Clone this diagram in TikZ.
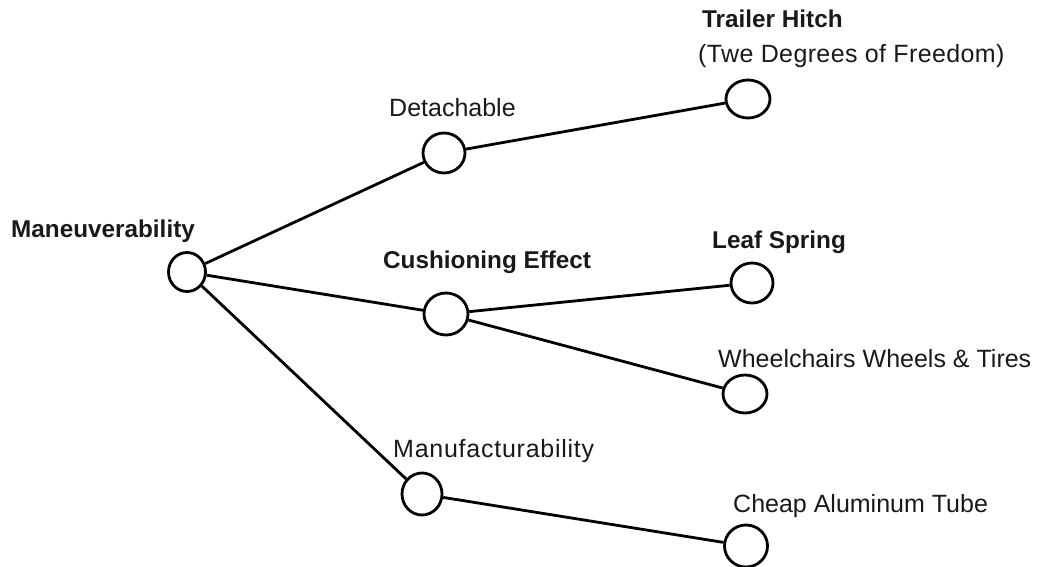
\documentclass[tikz,border=0pt]{standalone}
\usepackage{fontspec}
\setmainfont{Liberation Sans}
\newfontfamily\widesans[LetterSpace=3]{Liberation Sans}
\newfontfamily\midsans[LetterSpace=1.5]{Liberation Sans}
\usetikzlibrary{shapes.geometric}
\begin{document}
\begin{tikzpicture}[x=1pt,y=-1pt,
  pt/.style={draw=black,line width=2.8pt,ellipse,fill=white,inner sep=0pt,minimum width=42pt,minimum height=40pt},
  edge/.style={draw=black,line width=2.8pt},
  lab/.style={anchor=base west,inner sep=0pt,text=black!90,font=\fontsize{25}{30}\selectfont},
  blab/.style={lab,font=\fontsize{24.3}{30}\selectfont\bfseries}]
\useasboundingbox (0,0) rectangle (1047,567);
% circles
\node[pt,minimum width=37pt,minimum height=39pt] (root) at (187,272) {};
\node[pt] (det) at (444,153) {};
\node[pt,minimum width=44pt,minimum height=38pt] (hitch) at (748,99) {};
\node[pt,minimum width=44pt,minimum height=42pt] (cush) at (446,314) {};
\node[pt] (leaf) at (752,283) {};
\node[pt,minimum width=44pt,minimum height=38pt] (wheel) at (745,394) {};
\node[pt,minimum width=40pt,minimum height=42pt] (manu) at (422,494) {};
\node[pt,minimum width=43pt,minimum height=42pt] (tube) at (746,546) {};
% connectors
\draw[edge] (root) -- (det);
\draw[edge] (root) -- (cush);
\draw[edge] (root) -- (manu);
\draw[edge] (det) -- (hitch);
\draw[edge] (cush) -- (leaf);
\draw[edge] (cush) -- (wheel);
\draw[edge] (manu) -- (tube);
% labels
\node[blab] (lroot) at (11,237) {Maneuverability};
\node[lab] (ldet) at (389,117) {Detachable};
\node[blab] (lhitch) at (702,28) {Trailer Hitch};
\node[lab] (lhitch2) at (698,63) {\midsans(Twe Degrees of Freedom)};
\node[blab] (lcush) at (383,268) {Cushioning Effect};
\node[blab] (lleaf) at (712,248) {Leaf Spring};
\node[lab] (lwheel) at (718,367) {Wheelchairs Wheels \& Tires};
\node[lab] (lmanu) at (393,457) {\widesans Manufacturability};
\node[lab] (ltube) at (733,512) {Cheap Aluminum Tube};
\end{tikzpicture}
\end{document}
